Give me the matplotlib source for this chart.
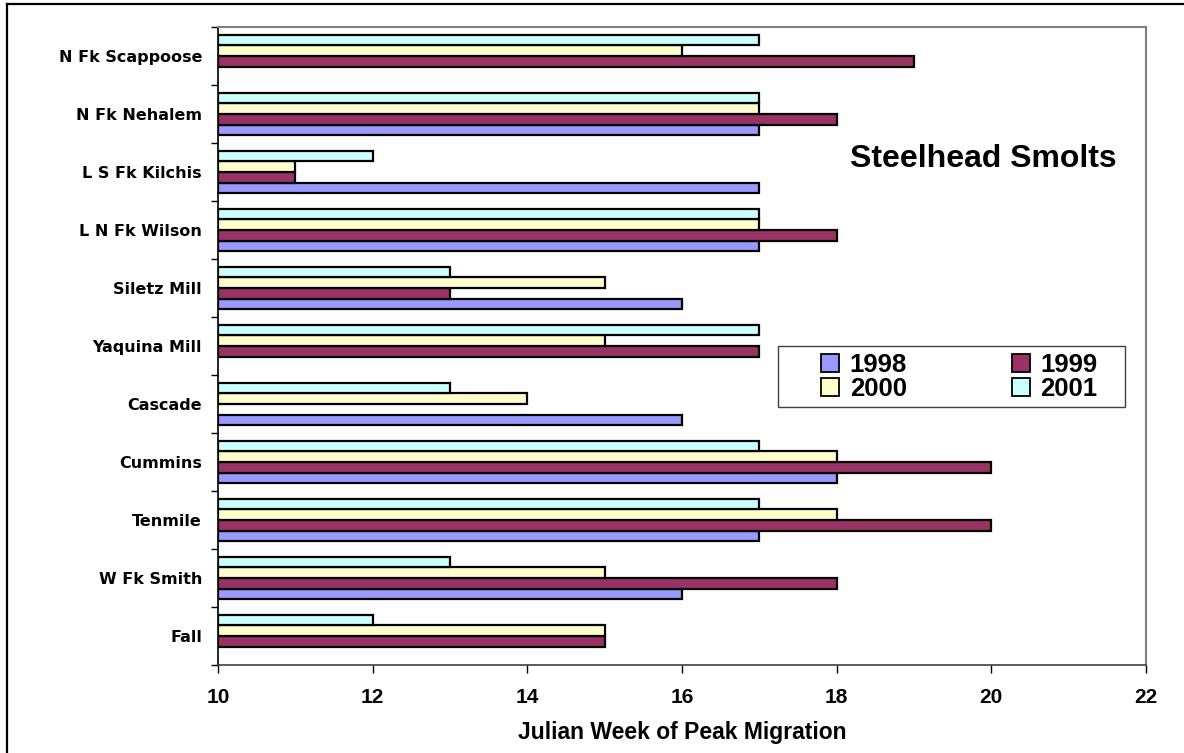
import numpy as np
import matplotlib
matplotlib.use("Agg")
import matplotlib.pyplot as plt
from matplotlib.lines import Line2D
from matplotlib.patches import Patch, Rectangle

categories = ["Fall", "W Fk Smith", "Tenmile", "Cummins", "Cascade",
              "Yaquina Mill", "Siletz Mill", "L N Fk Wilson",
              "L S Fk Kilchis", "N Fk Nehalem", "N Fk Scappoose"]
nan = np.nan
v1998 = [nan, 16, 17, 18, 16, nan, 16, 17, 17, 17, nan]
v1999 = [15, 18, 20, 20, nan, 17, 13, 18, 11, 18, 19]
v2000 = [15, 15, 18, 18, 14, 15, 15, 17, 11, 17, 16]
v2001 = [12, 13, 17, 17, 13, 17, 13, 17, 12, 17, 17]
years = ["1998", "1999", "2000", "2001"]
colors = ["#9999FF", "#993366", "#FFFFCC", "#CCFFFF"]
series = [v1998, v1999, v2000, v2001]

xticks = [10, 12, 14, 16, 18, 20, 22]
base = 10

W, H = 1184, 753
fig = plt.figure(figsize=(W / 100, H / 100), dpi=100)
fig.patch.set_facecolor("white")

# outer chart border (left and top visible)
fig.add_artist(Line2D([7 / W, 7 / W], [0, 1 - 4 / H], color="black", lw=1.6, transform=fig.transFigure))
fig.add_artist(Line2D([7 / W, 1], [1 - 4 / H, 1 - 4 / H], color="black", lw=1.6, transform=fig.transFigure))

ax = fig.add_axes([218 / W, 1 - 665 / H, (1146 - 218) / W, (665 - 27) / H])

n = len(categories)
y = np.arange(n)
h = 0.183
offsets = [-1.5 * h, -0.5 * h, 0.5 * h, 1.5 * h]
for vals, col, off, yr in zip(series, colors, offsets, years):
    arr = np.array(vals, dtype=float)
    ax.barh(y + off, arr - base, left=base, height=h, color=col,
            edgecolor="black", linewidth=1.6, label=yr)

ax.set_xlim(10, 22)
ax.set_ylim(-0.5, n - 0.5)
ax.set_xticks(xticks)
ax.set_xticklabels([str(t) for t in xticks], fontsize=15, fontweight="bold",
                   family="Liberation Sans")
ax.set_yticks(y)
ax.set_yticklabels(categories, fontsize=11.5, fontweight="bold", family="DejaVu Sans")
ax.tick_params(axis="y", length=0, pad=11.5)
ax.set_yticks(np.arange(n + 1) - 0.5, minor=True)
ax.tick_params(axis="y", which="minor", length=5, width=1, direction="out")
ax.tick_params(axis="x", length=6, width=1, direction="out", pad=10.5)

for s in ["top", "right"]:
    ax.spines[s].set_color("#808080")
    ax.spines[s].set_linewidth(1.5)
ax.spines["left"].set_color("black")
ax.spines["bottom"].set_color("#404040")
ax.spines["left"].set_linewidth(1.2)
ax.spines["bottom"].set_linewidth(1.2)

ax.set_xlabel("Julian Week of Peak Migration", fontsize=16.5, fontweight="bold",
              family="Liberation Sans", labelpad=10)

fig.text(983 / W, 1 - 159 / H, "Steelhead Smolts", fontsize=23, fontweight="bold",
         family="Liberation Sans", ha="center", va="center")

# legend box (drawn in the axes, under the legend entries)
box = Rectangle((778 / W, 1 - 407 / H), (1125 - 778) / W, (407 - 346) / H,
                transform=fig.transFigure, facecolor="white",
                edgecolor="#404040", linewidth=1.0, zorder=3, clip_on=False)
ax.add_patch(box)

# legend laid out row-wise: 1998 1999 / 2000 2001
order = [0, 2, 1, 3]
handles = [Patch(facecolor=colors[i], edgecolor="black", linewidth=1.3) for i in order]
labels = [years[i] for i in order]
leg = ax.legend(handles, labels, loc="center", ncol=2,
                bbox_to_anchor=((959.5 - 218) / (1146 - 218), (665 - 376.5) / (665 - 27)),
                prop={"family": "Liberation Sans", "weight": "bold", "size": 18.5},
                frameon=False,
                handlelength=0.7, handleheight=0.7, handletextpad=0.4,
                columnspacing=4.1, labelspacing=0.0, borderpad=0.0,
                borderaxespad=0)
leg.set_zorder(10)

fig.savefig("out.png", dpi=100, facecolor="white")
